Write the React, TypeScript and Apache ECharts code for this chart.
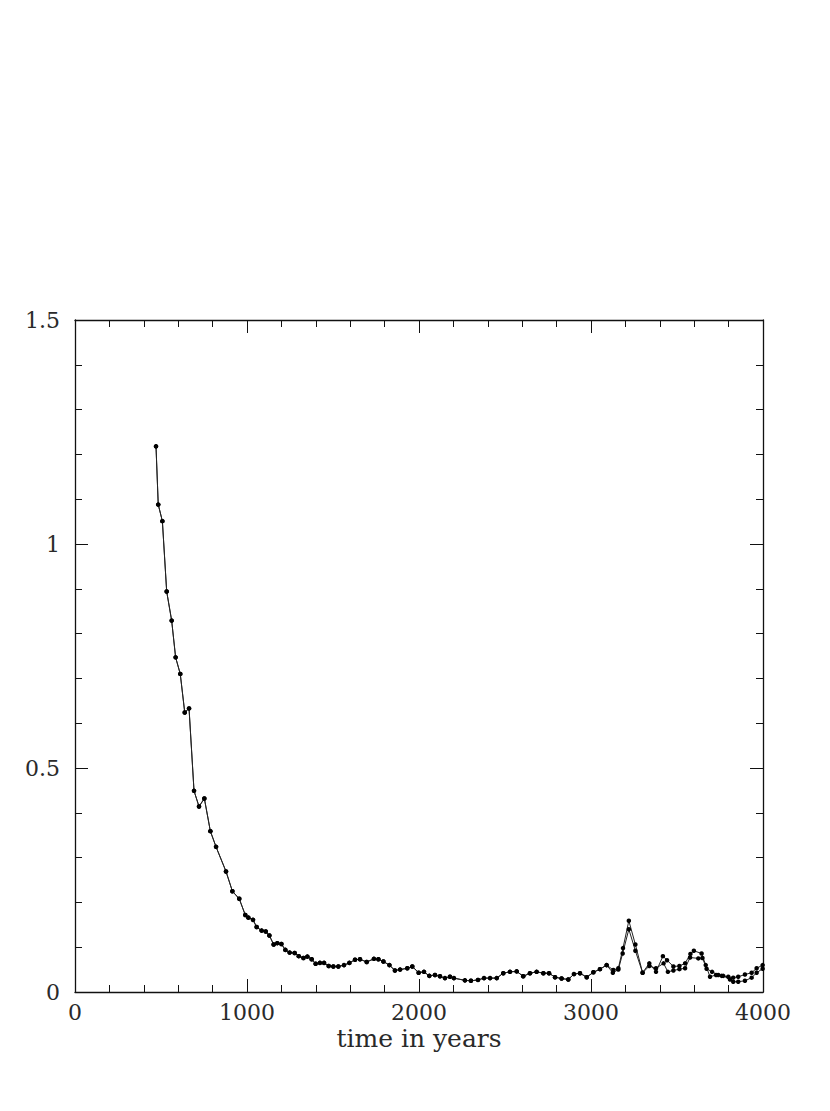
import React, { useEffect, useRef } from "react";
import * as echarts from "echarts";

const commonYears = [
  471, 484, 508, 533, 562, 585, 612, 638, 663, 692, 721, 752, 787, 820, 878, 915, 955, 990, 1008, 1035,
  1056, 1085, 1109, 1130, 1155, 1176, 1200, 1223, 1248, 1277, 1301, 1328, 1351, 1376, 1399, 1424, 1448,
  1475, 1502, 1531, 1564, 1595, 1628, 1657, 1696, 1738, 1764, 1793, 1828, 1860, 1890, 1932, 1961, 1998,
  2029, 2060, 2093, 2122, 2151, 2180, 2203, 2267, 2302, 2343, 2378, 2413, 2452, 2490, 2529, 2568, 2606,
  2645, 2684, 2723, 2756, 2791, 2829, 2868, 2901, 2936, 2975, 3014, 3052, 3091,
];
const commonValues = [
  1.218, 1.088, 1.051, 0.894, 0.829, 0.747, 0.71, 0.624, 0.633, 0.449, 0.414, 0.432, 0.359, 0.324, 0.269,
  0.225, 0.208, 0.172, 0.166, 0.161, 0.145, 0.137, 0.135, 0.126, 0.106, 0.109, 0.107, 0.094, 0.088, 0.087,
  0.08, 0.076, 0.079, 0.073, 0.063, 0.065, 0.065, 0.058, 0.057, 0.057, 0.06, 0.065, 0.072, 0.073, 0.067,
  0.074, 0.073, 0.068, 0.06, 0.048, 0.05, 0.053, 0.057, 0.043, 0.045, 0.036, 0.038, 0.035, 0.031, 0.034,
  0.031, 0.026, 0.025, 0.027, 0.031, 0.031, 0.031, 0.042, 0.045, 0.046, 0.035, 0.042, 0.045, 0.042, 0.042,
  0.033, 0.03, 0.028, 0.04, 0.042, 0.033, 0.044, 0.051, 0.06,
];

const tailYearsA = [
  3130, 3159, 3186, 3220, 3258, 3300, 3339, 3378, 3418, 3442, 3479, 3514, 3547, 3578, 3598, 3643, 3667,
  3692, 3727, 3760, 3798, 3827, 3856, 3895, 3934, 3963, 3998,
];
const tailValuesA = [
  0.049, 0.053, 0.098, 0.159, 0.106, 0.043, 0.064, 0.045, 0.08, 0.071, 0.057, 0.058, 0.064, 0.085, 0.092,
  0.086, 0.06, 0.034, 0.038, 0.036, 0.034, 0.032, 0.034, 0.039, 0.043, 0.053, 0.06,
];
const tailYearsB = [
  3127, 3159, 3184, 3220, 3258, 3300, 3339, 3378, 3422, 3447, 3479, 3514, 3547, 3576, 3624, 3648, 3672,
  3704, 3740, 3769, 3808, 3827, 3856, 3895, 3934, 3963, 3998,
];
const tailValuesB = [
  0.043, 0.05, 0.086, 0.14, 0.092, 0.043, 0.058, 0.053, 0.064, 0.045, 0.048, 0.051, 0.053, 0.077, 0.075,
  0.076, 0.052, 0.045, 0.038, 0.036, 0.028, 0.023, 0.023, 0.025, 0.032, 0.043, 0.052,
];

const xTicks = { min: 0, max: 4000, interval: 1000 };
const yTicks = { min: 0, max: 1.5, interval: 0.5 };
const xAxisName = "time in years";

const FONT = "DejaVu Serif";

function pairs(xs: number[], ys: number[]) {
  return xs.map((x, i) => [x, ys[i]]);
}

export default function App() {
  const ref = useRef<HTMLDivElement>(null);
  useEffect(() => {
    if (!ref.current) return;
    const chart = echarts.init(ref.current, null, { renderer: "svg" });
    const black = "#111";
    const axisCommon = (showLabel: boolean) => ({
      axisLine: { show: true, onZero: false, lineStyle: { color: black, width: 1.3 } },
      axisTick: { show: true, inside: true, length: 13, lineStyle: { color: black, width: 1 } },
      minorTick: { show: true, splitNumber: 5, length: 7, lineStyle: { color: black, width: 1 } },
      splitLine: { show: false },
      minorSplitLine: { show: false },
      axisLabel: {
        show: showLabel,
        fontFamily: FONT,
        fontSize: 22,
        lineHeight: 20,
        color: "#2a2a2a",
        formatter: (v: number) => String(v),
      },
    });
    const seriesStyle = {
      type: "line" as const,
      symbol: "circle",
      symbolSize: 4.5,
      itemStyle: { color: "#000" },
      lineStyle: { color: "#222", width: 1 },
      showSymbol: true,
    };
    chart.setOption({
      animation: false,
      backgroundColor: "#fff",
      grid: { left: 75, right: 67, top: 320, bottom: 119, containLabel: false },
      xAxis: [
        {
          type: "value",
          position: "bottom",
          ...xTicks,
          ...axisCommon(true),
          axisLabel: { ...axisCommon(true).axisLabel, margin: 10 },
          name: xAxisName,
          nameLocation: "middle",
          nameMoveOverlap: false,
          nameGap: 36,
          nameTextStyle: { fontFamily: FONT, fontSize: 25, lineHeight: 20, color: "#2a2a2a" },
        },
        { type: "value", position: "top", ...xTicks, ...axisCommon(false) },
      ],
      yAxis: [
        {
          type: "value",
          position: "left",
          ...yTicks,
          ...axisCommon(true),
          axisLabel: { ...axisCommon(true).axisLabel, margin: 15 },
        },
        { type: "value", position: "right", ...yTicks, ...axisCommon(false) },
      ],
      series: [
        {
          ...seriesStyle,
          name: "A",
          data: pairs(commonYears.concat(tailYearsA), commonValues.concat(tailValuesA)),
        },
        {
          ...seriesStyle,
          name: "B",
          data: pairs(commonYears.concat(tailYearsB), commonValues.concat(tailValuesB)),
        },
      ],
    });
    return () => chart.dispose();
  }, []);
  return (
    <div
      ref={ref}
      style={{ position: "fixed", left: 0, top: 0, width: 830, height: 1111, background: "#fff" }}
    />
  );
}
